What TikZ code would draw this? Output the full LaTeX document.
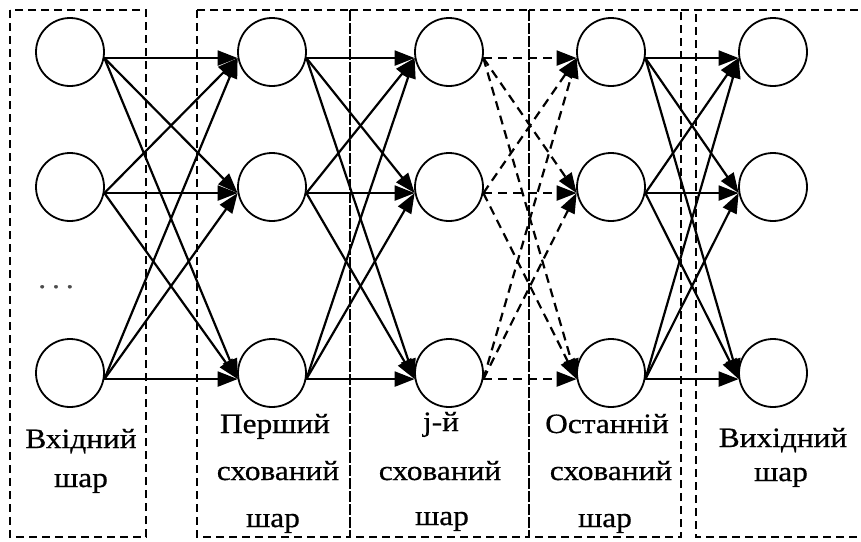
\documentclass[tikz,border=0pt]{standalone}
\usepackage{fontspec}
\setmainfont{Liberation Serif}[FakeStretch=1.12,FakeBold=0.6]
\usetikzlibrary{arrows.meta}
\begin{document}
\begin{tikzpicture}[x=1pt,y=-1pt,
  neuron/.style={draw,circle,line width=1.8pt,minimum size=68pt,inner sep=0pt},
  arr/.style={line width=2.2pt,-{Triangle[length=20pt,width=15pt]}},
  darr/.style={arr,dash pattern=on 9pt off 6pt},
  layerbox/.style={line width=2.4pt,dash pattern=on 8pt off 5pt},
  lbl/.style={anchor=base,inner sep=0pt,font=\fontsize{28}{30}\selectfont},
  dots/.style={anchor=base,inner sep=0pt,text=black!70,font=\fontsize{28}{30}\selectfont}]
\clip (0,0) rectangle (861,541);
\fill[white] (0,0) rectangle (861,541);
% boxes
\draw[layerbox] (10,10) rectangle (146,537);
\draw[layerbox] (197,10) rectangle (350,537);
\draw[layerbox] (350,10) rectangle (529,537);
\draw[layerbox] (529,10) rectangle (681,537);
\draw[layerbox] (681,10) -- (880,10);
\draw[layerbox] (696,14) -- (696,537) -- (880,537);
% neurons
\foreach \l/\x in {1/70,2/272,3/449,4/611,5/773}{
  \foreach \r/\y in {1/52,2/187,3/373}{
    \node[neuron] (n\l\r) at (\x,\y) {};
  }
}
\node[dots] (dd) at (56,288) {.\hspace{6pt}.\hspace{6pt}.};
% connections
\foreach \a/\b in {1/2,2/3,4/5}{
  \foreach \i in {1,2,3}{
    \foreach \j in {1,2,3}{
      \draw[arr] (n\a\i.-10) -- (n\b\j.190);
    }
  }
}
\foreach \i in {1,2,3}{
  \foreach \j in {1,2,3}{
    \draw[darr] (n3\i.-10) -- (n4\j.190);
  }
}
% labels
\node[lbl] (t11) at (81,448) {Вхідний};
\node[lbl] (t12) at (81,487) {шар};
\node[lbl] (t21) at (275,433) {Перший};
\node[lbl] (t22) at (278,480) {схований};
\node[lbl] (t23) at (273,527) {шар};
\node[lbl] (t31) at (441,431) {j-й};
\node[lbl] (t32) at (440,480) {схований};
\node[lbl] (t33) at (442,525) {шар};
\node[lbl] (t41) at (607,433) {Останній};
\node[lbl] (t42) at (611,480) {схований};
\node[lbl] (t43) at (605,527) {шар};
\node[lbl] (t51) at (783,447) {Вихідний};
\node[lbl] (t52) at (781,481) {шар};
\end{tikzpicture}
\end{document}
